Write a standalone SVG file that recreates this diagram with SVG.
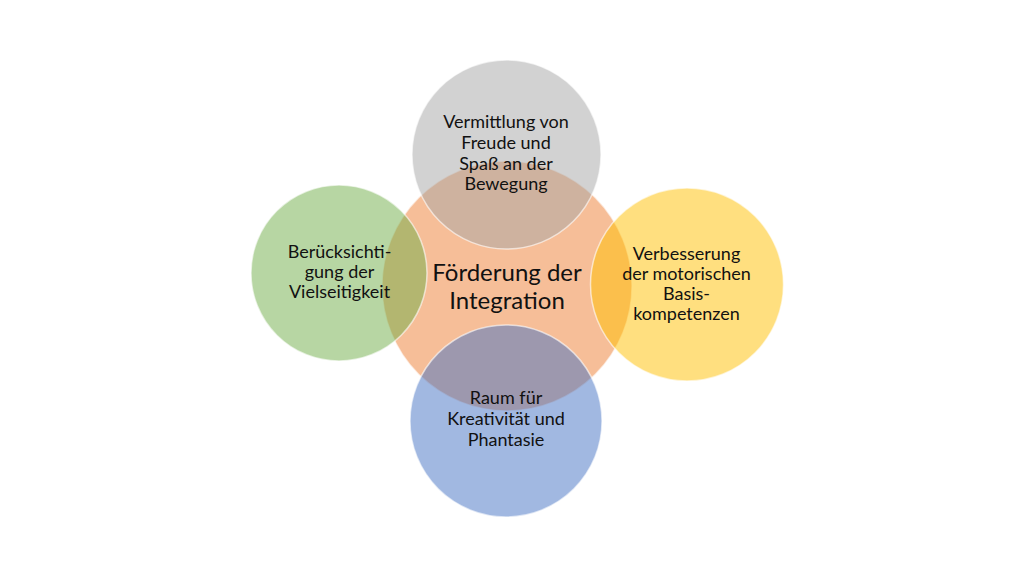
<svg xmlns="http://www.w3.org/2000/svg" width="1024" height="576" viewBox="0 0 1024 576">
<style>
.c{fill-opacity:0.5;stroke:#ffffff;stroke-opacity:0.6;stroke-width:1.5}
.t{font-family:Lato,"Open Sans","Liberation Sans",sans-serif;font-size:18px;fill:#111111;text-anchor:middle}
.tc{font-family:Lato,"Open Sans","Liberation Sans",sans-serif;font-size:24px;fill:#111111;text-anchor:middle}
</style>
<rect width="1024" height="576" fill="#ffffff"/>
<g id="center">
<circle class="c" cx="507" cy="286" r="125" fill="#ED7D31"/>
</g>
<g id="top">
<circle class="c" cx="506.5" cy="154.5" r="94.5" fill="#A5A5A5"/>
</g>
<g id="left">
<circle class="c" cx="339" cy="273" r="88" fill="#70AD47"/>
</g>
<g id="right">
<circle class="c" cx="687" cy="284.5" r="96.5" fill="#FFC000"/>
</g>
<g id="bottom">
<circle class="c" cx="506" cy="421" r="96" fill="#4472C4"/>
</g>
<g id="connectors"></g>
<g id="labels">
<text class="tc" x="507" y="281">Förderung der</text>
<text class="tc" x="507" y="309">Integration</text>
<text class="t" x="506" y="128">Vermittlung von</text>
<text class="t" x="506" y="149">Freude und</text>
<text class="t" x="506" y="169.5">Spaß an der</text>
<text class="t" x="506" y="190">Bewegung</text>
<text class="t" x="339.5" y="258">Berücksichti-</text>
<text class="t" x="339.5" y="278">gung der</text>
<text class="t" x="339.5" y="298">Vielseitigkeit</text>
<text class="t" x="686.5" y="260">Verbesserung</text>
<text class="t" x="686.5" y="280">der motorischen</text>
<text class="t" x="686.5" y="300">Basis-</text>
<text class="t" x="686.5" y="320">kompetenzen</text>
<text class="t" x="506" y="404">Raum für</text>
<text class="t" x="506" y="425">Kreativität und</text>
<text class="t" x="506" y="446">Phantasie</text>
</g>
</svg>
